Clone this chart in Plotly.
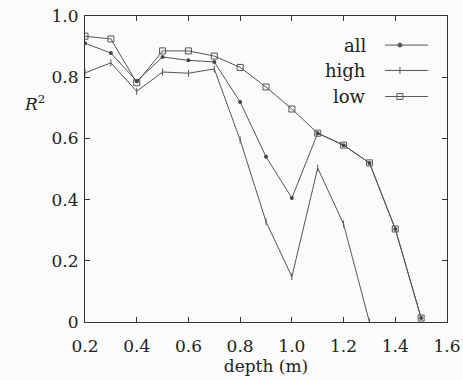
import plotly.graph_objects as go

# Coefficient of determination versus depth for three subsets
depth_all = [0.2, 0.3, 0.4, 0.5, 0.6, 0.7, 0.8, 0.9, 1.0, 1.1, 1.2, 1.3, 1.4, 1.5]
r2_all = [0.911, 0.879, 0.787, 0.866, 0.855, 0.850, 0.719, 0.540, 0.405, 0.617, 0.578, 0.520, 0.304, 0.013]

depth_high = [0.2, 0.3, 0.4, 0.5, 0.6, 0.7, 0.8, 0.9, 1.0, 1.1, 1.2, 1.3]
r2_high = [0.814, 0.847, 0.754, 0.817, 0.813, 0.827, 0.595, 0.328, 0.148, 0.503, 0.320, 0.0]

depth_low = [0.2, 0.3, 0.4, 0.5, 0.6, 0.7, 0.8, 0.9, 1.0, 1.1, 1.2, 1.3, 1.4, 1.5]
r2_low = [0.934, 0.925, 0.782, 0.886, 0.886, 0.869, 0.832, 0.768, 0.696, 0.617, 0.578, 0.520, 0.304, 0.013]

x_ticks = [0.2, 0.4, 0.6, 0.8, 1.0, 1.2, 1.4, 1.6]
x_tick_text = ["0.2", "0.4", "0.6", "0.8", "1.0", "1.2", "1.4", "1.6"]
y_ticks = [0, 0.2, 0.4, 0.6, 0.8, 1.0]
y_tick_text = ["0", "0.2", "0.4", "0.6", "0.8", "1.0"]

series_names = ["all", "high", "low"]

LINE = "#555555"
TEXT = "#222222"
FONT = "DejaVu Serif"
FSIZE = 17

fig = go.Figure()

fig.add_trace(go.Scatter(
    x=depth_low, y=r2_low, mode="lines+markers", name="low",
    line=dict(color=LINE, width=1),
    marker=dict(symbol="square-open", size=6, color=LINE, line=dict(width=1, color=LINE)),
))
fig.add_trace(go.Scatter(
    x=depth_high, y=r2_high, mode="lines+markers", name="high",
    line=dict(color=LINE, width=1),
    marker=dict(symbol="line-ns", size=5, color=LINE, line=dict(width=1, color=LINE)),
))
fig.add_trace(go.Scatter(
    x=depth_all, y=r2_all, mode="lines+markers", name="all",
    line=dict(color=LINE, width=1),
    marker=dict(symbol="circle", size=4, color="#444444"),
))

# Hand-built legend: label on the left, line sample with marker on the right
legend_y = [0.905, 0.822, 0.737]
legend_symbols = ["circle", "line-ns", "square-open"]
legend_sizes = [4, 5, 6]
for name, ly, sym, sz in zip(series_names, legend_y, legend_symbols, legend_sizes):
    fig.add_annotation(
        x=0.783, y=ly, xref="paper", yref="paper", text=name, showarrow=False,
        xanchor="right", yanchor="middle", font=dict(family=FONT, size=FSIZE + 1, color=TEXT),
    )
    fig.add_shape(
        type="line", xref="paper", yref="paper", x0=0.829, x1=0.948, y0=ly, y1=ly,
        line=dict(color=LINE, width=1),
    )
    fig.add_trace(go.Scatter(
        x=[0.870], y=[ly], xaxis="x2", yaxis="y2", mode="markers", showlegend=False,
        marker=dict(symbol=sym, size=sz, color=LINE, line=dict(width=1, color=LINE)),
        hoverinfo="skip",
    ))

fig.add_annotation(
    x=-0.175, y=0.758, xref="paper", yref="paper", text="<i>R</i><sup>2</sup>",
    showarrow=False, font=dict(family=FONT, size=FSIZE, color=TEXT),
)

axis_common = dict(
    showline=True, linecolor="#333333", linewidth=1, mirror="ticks",
    ticks="inside", ticklen=5, tickcolor="#333333", showgrid=False, zeroline=False,
    tickfont=dict(family=FONT, size=FSIZE, color=TEXT), automargin=False,
)

fig.update_layout(
    width=463, height=380,
    margin=dict(l=85, r=16, t=16, b=58),
    paper_bgcolor="#fbfbfb", plot_bgcolor="#fbfbfb",
    showlegend=False,
    font=dict(family=FONT),
    xaxis=dict(range=[0.2, 1.6], tickvals=x_ticks, ticktext=x_tick_text, ticklabelstandoff=9,
               title=dict(text="depth (m)", font=dict(family=FONT, size=FSIZE, color=TEXT), standoff=0),
               **axis_common),
    yaxis=dict(range=[0, 1.0], tickvals=y_ticks, ticktext=y_tick_text, ticklabelstandoff=2,
               **axis_common),
    xaxis2=dict(range=[0, 1], overlaying="x", visible=False, fixedrange=True),
    yaxis2=dict(range=[0, 1], overlaying="y", visible=False, fixedrange=True),
)

fig.write_html("out.html")
